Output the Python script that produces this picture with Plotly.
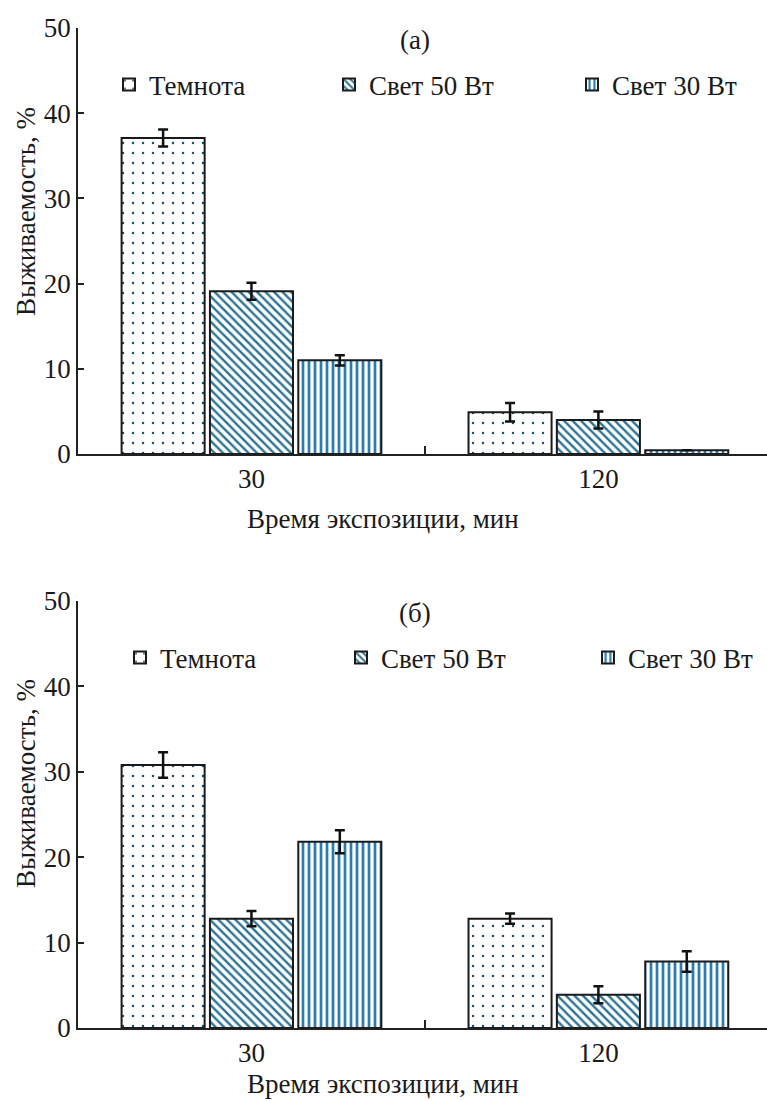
import plotly.graph_objects as go

categories = ["30", "120"]
series = ["Темнота", "Свет 50 Вт", "Свет 30 Вт"]

# panel (a)
a_vals = {"Темнота": [37.1, 4.9], "Свет 50 Вт": [19.1, 4.0], "Свет 30 Вт": [11.0, 0.45]}
a_errs = {"Темнота": [1.0, 1.1], "Свет 50 Вт": [1.0, 1.0], "Свет 30 Вт": [0.6, 0.0]}
# panel (б)
b_vals = {"Темнота": [30.8, 12.8], "Свет 50 Вт": [12.8, 3.9], "Свет 30 Вт": [21.8, 7.8]}
b_errs = {"Темнота": [1.5, 0.6], "Свет 50 Вт": [0.9, 1.0], "Свет 30 Вт": [1.35, 1.2]}

y_ticks = [0, 10, 20, 30, 40, 50]

FONT = "Liberation Serif, Times New Roman, serif"
FS = 27
patterns = {
    "Темнота": dict(shape=".", fgcolor="#1a4f6e", bgcolor="white", size=10, solidity=0.05, fgopacity=1),
    "Свет 50 Вт": dict(shape="\\", fgcolor="#2a7393", bgcolor="white", size=6, solidity=0.4, fgopacity=1),
    "Свет 30 Вт": dict(shape="|", fgcolor="#2a7cb0", bgcolor="white", size=6, solidity=0.45, fgopacity=1),
}

L, W, H = 78, 767, 1101
plot_w = W - L

def px(pix):
    return (pix - L) / plot_w

def py(pix):
    return 1 - pix / H

# legend item left positions (pixels) per panel
leg_a_x = [109, 329, 572]
leg_b_x = [120, 341, 588]

fig = go.Figure()
for panel, (vals, errs, xa, ya, base) in enumerate([
    (a_vals, a_errs, "x", "y", 0),
    (b_vals, b_errs, "x2", "y2", 3),
]):
    for i, s in enumerate(series):
        n = base + i + 1
        lg = "legend" if n == 1 else f"legend{n}"
        fig.add_trace(go.Bar(
            x=categories, y=vals[s], name=s, xaxis=xa, yaxis=ya, legend=lg, showlegend=True,
            marker=dict(color="white", pattern=patterns[s], line=dict(color="#1a1a1a", width=2)),
            error_y=dict(type="data", array=errs[s], visible=True, color="#111111",
                         thickness=2.5, width=5),
        ))

axis_common = dict(showline=True, linecolor="#222222", linewidth=1.5, ticks="inside",
                   tickcolor="#222222", tickwidth=1.5, showgrid=False, zeroline=False,
                   tickfont=dict(family=FONT, size=FS, color="#1a1a1a"))

legends = {}
for n in range(1, 7):
    key = "legend" if n == 1 else f"legend{n}"
    if n <= 3:
        xpix, ypix = leg_a_x[n - 1], 85
    else:
        xpix, ypix = leg_b_x[n - 4], 658
    legends[key] = dict(orientation="h", x=px(xpix), y=py(ypix), yanchor="middle", xanchor="left",
                        font=dict(family=FONT, size=FS, color="#1a1a1a"),
                        bgcolor="rgba(0,0,0,0)", itemwidth=30, visible=True)

def ann(text, x, y, angle=0):
    return dict(text=text, x=px(x), y=py(y), xref="paper", yref="paper", xanchor="center",
                yanchor="middle", showarrow=False, textangle=angle,
                font=dict(family=FONT, size=FS, color="#1a1a1a"))

fig.update_layout(
    width=W, height=H,
    margin=dict(l=L, r=0, t=0, b=0),
    plot_bgcolor="white", paper_bgcolor="white",
    showlegend=True,
    barmode="group", bargap=0.236, bargroupgap=0.06,
    font=dict(family=FONT, color="#1a1a1a", size=FS),
    xaxis=dict(axis_common, type="category", range=[-0.5, 1.486], tickson="boundaries",
               ticklen=8, anchor="y", domain=[0, 1], automargin=False),
    xaxis2=dict(axis_common, type="category", range=[-0.5, 1.486], tickson="boundaries",
                ticklen=8, anchor="y2", domain=[0, 1], automargin=False),
    yaxis=dict(axis_common, range=[0, 50], tickvals=y_ticks, ticklen=6, anchor="x",
               domain=[py(454), py(28)], automargin=False),
    yaxis2=dict(axis_common, range=[0, 50], tickvals=y_ticks, ticklen=6, anchor="x2",
                domain=[py(1028), py(601)], automargin=False),
    annotations=[
        ann("(a)", 415, 40),
        ann("(б)", 415, 613),
        ann("Время экспозиции, мин", 383, 519),
        ann("Время экспозиции, мин", 383, 1084),
        ann("Выживаемость, %", 26, 212, -90),
        ann("Выживаемость, %", 26, 784, -90),
    ],
    **legends,
)

fig.write_html("out.html")
